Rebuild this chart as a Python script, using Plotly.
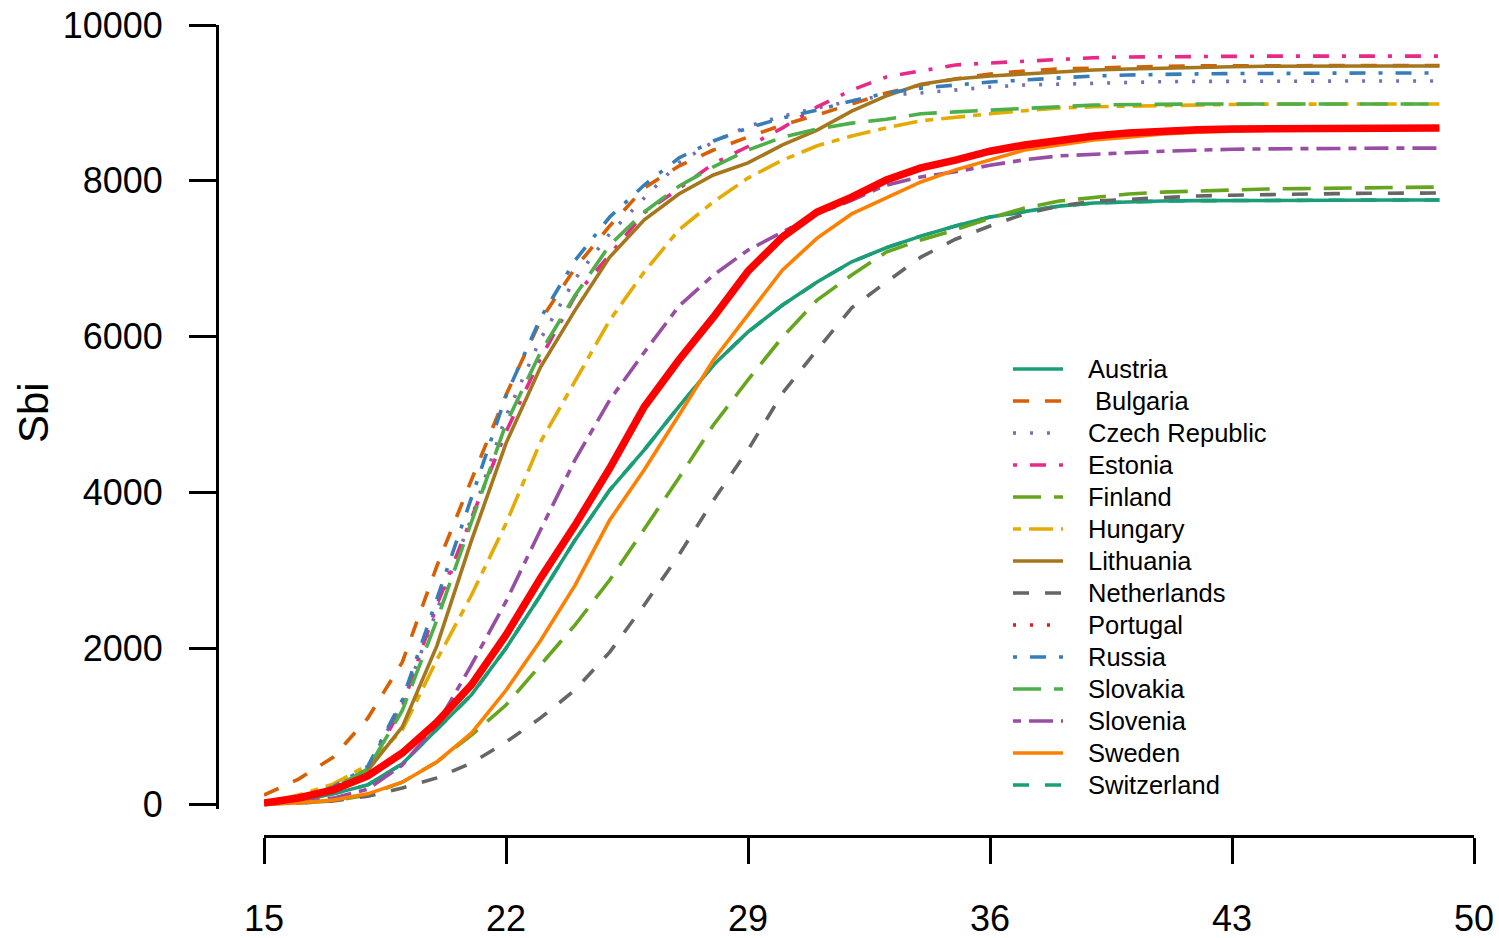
import plotly.graph_objects as go

ages = list(range(15, 50))

austria = [13, 40, 130, 245, 515, 950, 1400, 2000, 2680, 3390, 4030, 4545, 5100, 5635, 6060,
           6405, 6700, 6960, 7140, 7290, 7420, 7535, 7610, 7675, 7715, 7730, 7740, 7745, 7748,
           7750, 7752, 7753, 7753, 7753, 7753]
bulgaria = [115, 320, 600, 1100, 1820, 3055, 4160, 5250, 6210, 6880, 7420, 7908, 8190, 8395,
            8562, 8716, 8845, 8986, 9127, 9230, 9307, 9371, 9410, 9435, 9450, 9462, 9470, 9475,
            9478, 9480, 9480, 9480, 9480, 9480, 9480]
czech = [13, 45, 210, 470, 1300, 2490, 3670, 4980, 5970, 6740, 7320, 7780, 8230, 8500, 8700,
         8830, 8935, 9025, 9100, 9127, 9165, 9204, 9230, 9243, 9255, 9268, 9272, 9276, 9279,
         9280, 9281, 9281, 9281, 9281, 9281]
estonia = [13, 55, 200, 450, 1250, 2555, 3670, 4775, 5725, 6520, 7050, 7590, 7900, 8220, 8440,
           8680, 8950, 9165, 9333, 9410, 9487, 9512, 9538, 9563, 9580, 9590, 9595, 9598, 9600,
           9600, 9600, 9600, 9600, 9600, 9600]
finland = [0, 13, 40, 115, 280, 540, 885, 1270, 1785, 2300, 2875, 3520, 4185, 4865, 5445, 5995,
           6470, 6790, 7085, 7240, 7370, 7520, 7650, 7740, 7790, 7830, 7855, 7870, 7885, 7895,
           7900, 7905, 7910, 7915, 7920]
hungary = [13, 115, 255, 500, 950, 1850, 2680, 3600, 4650, 5440, 6210, 6830, 7370, 7730, 8035,
           8265, 8450, 8575, 8680, 8770, 8820, 8860, 8900, 8935, 8950, 8960, 8970, 8975, 8980,
           8984, 8986, 8986, 8986, 8986, 8986]
lithuania = [13, 50, 180, 430, 990, 2030, 3380, 4630, 5610, 6340, 7020, 7500, 7830, 8075, 8230,
             8460, 8650, 8895, 9090, 9240, 9307, 9346, 9371, 9397, 9422, 9435, 9448, 9460, 9465,
             9470, 9474, 9474, 9474, 9474, 9474]
netherlands = [0, 13, 40, 100, 205, 335, 525, 795, 1105, 1465, 1950, 2555, 3195, 3900, 4545,
               5275, 5830, 6370, 6700, 7020, 7250, 7420, 7575, 7675, 7740, 7765, 7790, 7805,
               7815, 7825, 7830, 7835, 7840, 7843, 7843]
portugal = [13, 77, 180, 360, 655, 1050, 1530, 2170, 2900, 3580, 4310, 5100, 5700, 6250, 6840,
            7280, 7600, 7790, 8010, 8165, 8265, 8380, 8460, 8525, 8575, 8615, 8640, 8655, 8665,
            8670, 8675, 8678, 8678, 8678, 8678]
russia = [13, 60, 220, 480, 1335, 2620, 3930, 5240, 6240, 6980, 7535, 7946, 8293, 8511, 8678,
          8806, 8909, 9025, 9127, 9190, 9230, 9268, 9294, 9320, 9346, 9358, 9368, 9372, 9376,
          9380, 9384, 9384, 9384, 9384, 9384]
slovakia = [13, 50, 200, 450, 1200, 2360, 3620, 4880, 5800, 6530, 7175, 7600, 7930, 8180, 8395,
            8560, 8665, 8740, 8790, 8860, 8885, 8910, 8935, 8950, 8973, 8980, 8984, 8986, 8986,
            8986, 8986, 8986, 8986, 8986, 8986]
slovenia = [13, 25, 75, 190, 500, 1015, 1785, 2600, 3520, 4420, 5185, 5800, 6390, 6790, 7110,
            7340, 7575, 7750, 7945, 8050, 8115, 8200, 8270, 8320, 8345, 8360, 8380, 8395, 8405,
            8410, 8415, 8420, 8420, 8420, 8420]
sweden = [0, 13, 50, 130, 280, 540, 910, 1460, 2100, 2810, 3645, 4290, 4990, 5700, 6280, 6855,
          7265, 7575, 7780, 7985, 8140, 8265, 8395, 8460, 8525, 8560, 8600, 8625, 8640, 8650,
          8655, 8660, 8663, 8665, 8665]
switzerland = list(austria)

x_ticks = [15, 22, 29, 36, 43, 50]
y_ticks = [0, 2000, 4000, 6000, 8000, 10000]

series = [
    ("Austria", austria, "#1B9E77", "solid"),
    (" Bulgaria", bulgaria, "#D95F02", "16px,16px"),
    ("Czech Republic", czech, "#7570B3", "3px,14px"),
    ("Estonia", estonia, "#E7298A", "4px,13px,16px,13px"),
    ("Finland", finland, "#66A61E", "28px,13px"),
    ("Hungary", hungary, "#E6AB02", "8px,8px,24px,8px"),
    ("Lithuania", lithuania, "#A6761D", "solid"),
    ("Netherlands", netherlands, "#666666", "16px,16px"),
    ("Portugal", portugal, "#E41A1C", "3px,14px"),
    ("Russia", russia, "#377EB8", "4px,13px,16px,13px"),
    ("Slovakia", slovakia, "#4DAF4A", "28px,13px"),
    ("Slovenia", slovenia, "#984EA3", "8px,8px,24px,8px"),
    ("Sweden", sweden, "#FF7F00", "solid"),
    ("Switzerland", switzerland, "#1B9E77", "16px,16px"),
]

W, H = 1499, 938
FONT = "Liberation Sans, Arial, Helvetica, sans-serif"
LW = 3.6

fig = go.Figure()
# Switzerland first so it sits beneath Austria
order = [13] + list(range(13))
for i in order:
    name, vals, col, dash = series[i]
    fig.add_trace(go.Scatter(x=ages, y=vals, mode="lines", name=name, showlegend=False,
                             line=dict(color=col, width=LW, dash=dash)))
# highlighted thick red curve (drawn on top)
fig.add_trace(go.Scatter(x=ages, y=portugal, mode="lines", name="Portugal (highlight)",
                         showlegend=False, line=dict(color="#FF0000", width=7.5)))

# R-style legend (no box): line sample + label per series
leg_x0, leg_x1, leg_text_x = 1013, 1063, 1086
leg_y0, leg_dy = 369, 32
shapes, annotations = [], []
for i, (name, vals, col, dash) in enumerate(series):
    yy = (H - (leg_y0 + i * leg_dy)) / H
    shapes.append(dict(type="line", xref="paper", yref="paper",
                       x0=leg_x0 / W, x1=leg_x1 / W, y0=yy, y1=yy,
                       line=dict(color=col, width=LW, dash=dash)))
    label = ("&nbsp;" + name[1:]) if name.startswith(" ") else name
    annotations.append(dict(text=label,
                            x=leg_text_x / W, y=yy, xref="paper", yref="paper",
                            xanchor="left", yanchor="middle", showarrow=False,
                            font=dict(size=25.5, family=FONT, color="black")))

annotations.append(dict(text="Sbi", x=33 / W, y=(H - 413) / H, xref="paper", yref="paper",
                        xanchor="center", yanchor="middle",
                        showarrow=False, textangle=-90,
                        font=dict(size=42, family=FONT, color="black")))

x_left, x_right = 264, 1474
y_top, y_zero = 25, 804
ymin = -60
px_per_unit = (y_zero - y_top) / 10000
y_bottom = y_zero + (-ymin) * px_per_unit

fig.update_layout(
    width=W, height=H,
    margin=dict(l=0, r=0, t=0, b=0, autoexpand=False),
    paper_bgcolor="white", plot_bgcolor="white",
    font=dict(family=FONT, color="black"),
    showlegend=False,
    xaxis=dict(domain=[x_left / W, x_right / W], range=[15, 50],
               tickvals=x_ticks, ticktext=[str(v) for v in x_ticks],
               showline=True, linecolor="black", linewidth=3,
               ticks="outside", ticklen=26, tickwidth=3, tickcolor="black",
               tickfont=dict(size=36, family=FONT, color="black"),
               ticklabelstandoff=24, automargin=False,
               showgrid=False, zeroline=False,
               anchor="free", position=(H - 835.5) / H),
    yaxis=dict(domain=[(H - y_bottom) / H, (H - y_top) / H], range=[ymin, 10000],
               tickvals=y_ticks, ticktext=[str(v) for v in y_ticks],
               showline=True, linecolor="black", linewidth=3,
               ticks="outside", ticklen=27, tickwidth=3, tickcolor="black",
               tickfont=dict(size=36, family=FONT, color="black"),
               ticklabelstandoff=19, automargin=False,
               showgrid=False, zeroline=False,
               anchor="free", position=217 / W),
    shapes=shapes,
    annotations=annotations,
)

fig.write_html("out.html")
